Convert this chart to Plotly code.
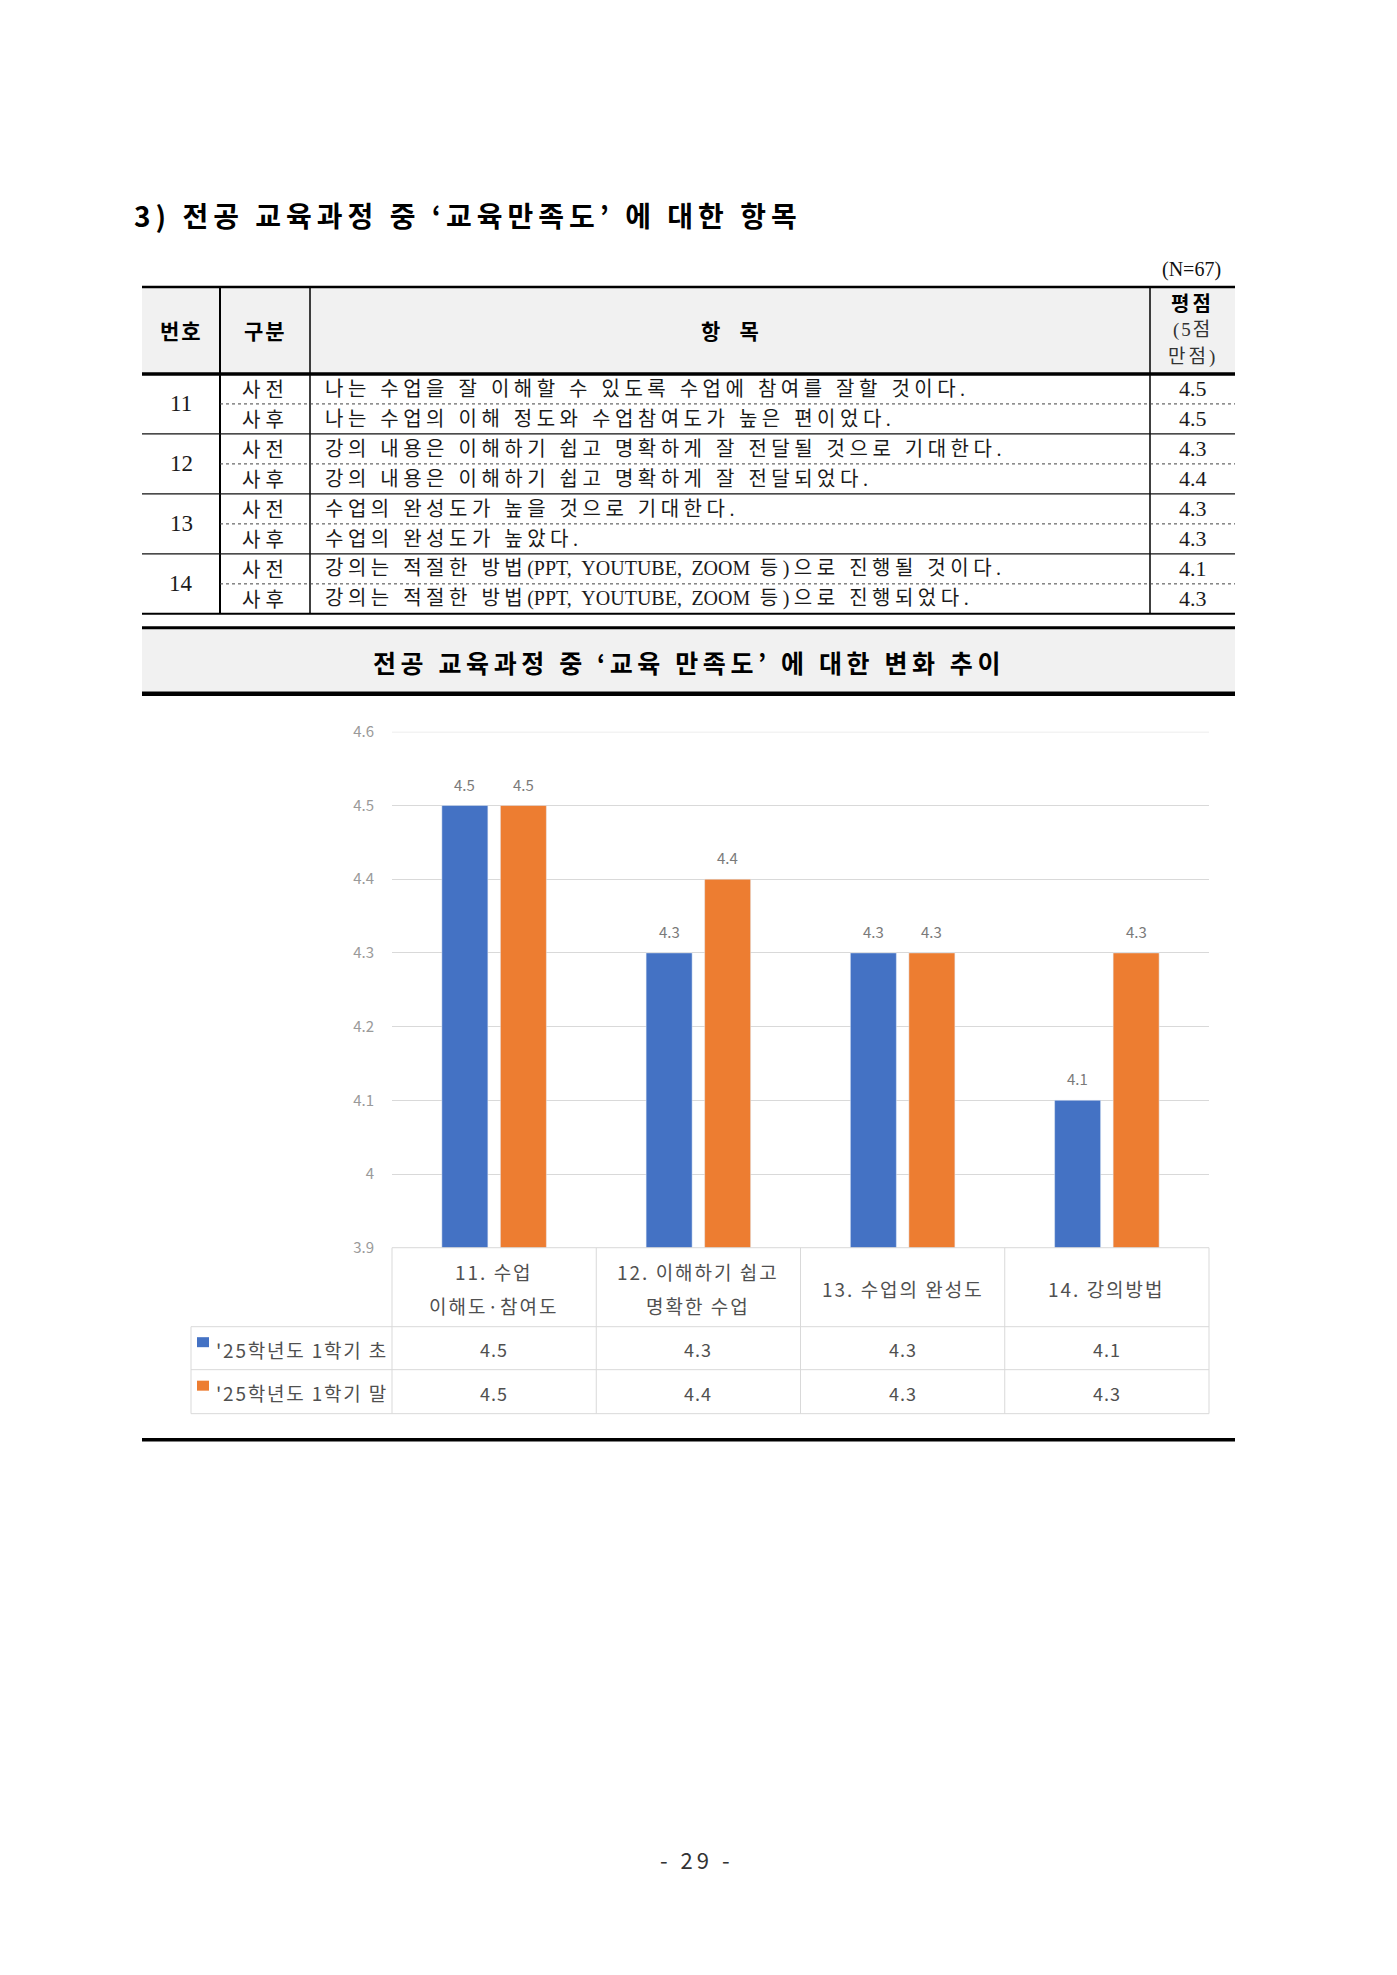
import re
import plotly.graph_objects as go

W, H = 1397, 1975

# ---------------- data ----------------
item_numbers = ["11", "12", "13", "14"]
phase_labels = ["사전", "사후"]
items_pre = [
    "나는 수업을 잘 이해할 수 있도록 수업에 참여를 잘할 것이다.",
    "강의 내용은 이해하기 쉽고 명확하게 잘 전달될 것으로 기대한다.",
    "수업의 완성도가 높을 것으로 기대한다.",
    "강의는 적절한 방법(PPT, YOUTUBE, ZOOM 등)으로 진행될 것이다.",
]
items_post = [
    "나는 수업의 이해 정도와 수업참여도가 높은 편이었다.",
    "강의 내용은 이해하기 쉽고 명확하게 잘 전달되었다.",
    "수업의 완성도가 높았다.",
    "강의는 적절한 방법(PPT, YOUTUBE, ZOOM 등)으로 진행되었다.",
]
categories = ["11. 수업 이해도·참여도", "12. 이해하기 쉽고 명확한 수업",
              "13. 수업의 완성도", "14. 강의방법"]
category_lines = [["11. 수업", "이해도·참여도"], ["12. 이해하기 쉽고", "명확한 수업"],
                  ["13. 수업의 완성도"], ["14. 강의방법"]]
series_names = ["'25학년도 1학기 초", "'25학년도 1학기 말"]
scores_pre = [4.5, 4.3, 4.3, 4.1]
scores_post = [4.5, 4.4, 4.3, 4.3]
y_tick_vals = [3.9, 4.0, 4.1, 4.2, 4.3, 4.4, 4.5, 4.6]
y_tick_text = ["3.9", "4", "4.1", "4.2", "4.3", "4.4", "4.5", "4.6"]

page_title = "3) 전공 교육과정 중 ‘교육만족도’ 에 대한 항목"
chart_title = "전공 교육과정 중 ‘교육 만족도’ 에 대한 변화 추이"
n_note = "(N=67)"
page_number = "- 29 -"

# ---------------- styles ----------------
BLUE = "#4472C4"
ORANGE = "#ED7D31"
SANS = "Noto Sans CJK KR"
SERIF = "Liberation Serif, Noto Sans CJK KR"
GRID = "#d9d9d9"


def X(px):
    return px / W


def Y(py):
    return 1 - ((py - 13) / 0.9896) / H


shapes = []
annotations = []


def hline(y, x0, x1, w=1, color="#000", dash="solid"):
    shapes.append(dict(type="line", xref="paper", yref="paper", x0=X(x0), x1=X(x1),
                       y0=Y(y), y1=Y(y), line=dict(color=color, width=w, dash=dash)))


def vline(x, y0, y1, w=1, color="#000"):
    shapes.append(dict(type="line", xref="paper", yref="paper", x0=X(x), x1=X(x),
                       y0=Y(y0), y1=Y(y1), line=dict(color=color, width=w)))


def rect(x0, y0, x1, y1, fill):
    shapes.append(dict(type="rect", xref="paper", yref="paper", x0=X(x0), x1=X(x1),
                       y0=Y(y1), y1=Y(y0), fillcolor=fill, line=dict(width=0), layer="below"))


def ls(s, px):
    return f'<span style="letter-spacing:{px}px">{s}</span>'


LATIN = re.compile(r"\(?[A-Z]+,?")


def mixed(s, ls_k, ls_l):
    out, pos = [], 0
    for m in LATIN.finditer(s):
        if m.start() > pos:
            out.append(ls(s[pos:m.start()], ls_k))
        out.append(ls(m.group(), ls_l))
        pos = m.end()
    if pos < len(s):
        out.append(ls(s[pos:], ls_k))
    return "".join(out)


def text(x, y, s, size, color="#000", family=SANS, xanchor="center", weight="normal",
         xref="paper", spacing=None):
    if spacing is not None:
        s = ls(s, spacing)
    annotations.append(dict(x=X(x) if xref == "paper" else x, y=Y(y), xref=xref, yref="paper",
                            text=s, showarrow=False, xanchor=xanchor, yanchor="middle",
                            font=dict(size=size, color=color, family=family, weight=weight)))


# ---------------- page title ----------------
text(132, 216, page_title, 28, "#000", SANS, "left", "bold", spacing=5)
text(1223, 271, n_note, 20, "#111", SERIF, "right")

# ---------------- document table ----------------
TL, TR = 142, 1235
C1, C2, C3 = 220, 310, 1150
TOP, HB = 288, 375
ROW = 30
BOT = HB + ROW * 8

rect(TL, TOP, TR, HB, "#f1f1f1")
hline(TOP, TL, TR, 2.5)
hline(HB, TL, TR, 3.5)
for c, w in ((C1, 2), (C2, 1.5), (C3, 1.5)):
    vline(c, TOP, BOT, w)

text((TL + C1) / 2, 331, "번호", 21, "#000", SANS, weight="bold", spacing=2)
text((C1 + C2) / 2, 331, "구분", 21, "#000", SANS, weight="bold", spacing=2)
text((C2 + C3) / 2, 331, "항 &nbsp; &nbsp;목", 21, "#000", SANS, weight="bold")
text((C3 + TR) / 2, 304, "평점", 20, "#000", SANS, weight="bold", spacing=3)
text((C3 + TR) / 2, 331, "(5점", 19, "#333", SERIF, spacing=2)
text((C3 + TR) / 2, 358, "만점)", 19, "#333", SERIF, spacing=3)

for i, num in enumerate(item_numbers):
    g0 = HB + 2 * ROW * i
    text((TL + C1) / 2, g0 + ROW, num, 23, "#1a1a1a", SERIF)
    rows = [(items_pre[i], scores_pre[i]), (items_post[i], scores_post[i])]
    for j, (itm, sc) in enumerate(rows):
        yc = g0 + ROW * j + ROW / 2
        text((C1 + C2) / 2, yc, phase_labels[j], 20, "#1a1a1a", SANS, spacing=5)
        text(C2 + 13, yc, mixed(itm, 4.5, 0), 20, "#1a1a1a", SERIF, "left")
        text((C3 + TR) / 2, yc, f"{sc:.1f}", 22, "#1a1a1a", SERIF)
    hline(g0 + ROW, C1, TR, 1, "#444", "dot")
    if i < 3:
        hline(g0 + 2 * ROW, TL, TR, 1.3, "#111")
hline(BOT, TL, TR, 2)

# ---------------- chart title box ----------------
rect(TL, 630, TR, 693, "#f1f1f1")
hline(629, TL, TR, 3)
hline(695, TL, TR, 4.5)
text((TL + TR) / 2, 663, chart_title, 25, "#000", SANS, weight="bold", spacing=4.6)

# ---------------- chart ----------------
PX0, PX1 = 392, 1209
PY_TOP, PY_BOT = 733, 1249
BARGAP, BARGROUPGAP = 0.427, 0.214

fig = go.Figure()
fig.add_trace(go.Bar(x=categories, y=scores_pre, name=series_names[0], marker_color=BLUE))
fig.add_trace(go.Bar(x=categories, y=scores_post, name=series_names[1], marker_color=ORANGE))

# value labels above the bars (offset within each category group from bargap)
cw = (PX1 - PX0) / len(categories)
slot = cw * (1 - BARGAP) / 2
for s_idx, vals in enumerate((scores_pre, scores_post)):
    for cat, v in zip(categories, vals):
        annotations.append(dict(x=cat, y=v, xref="x", yref="y", text=f"{v:.1f}",
                                showarrow=False, xanchor="center", yanchor="bottom",
                                xshift=(s_idx - 0.5) * slot, yshift=9,
                                font=dict(size=15, color="#7a7a7a", family=SANS)))

# gridline at the very top of the range
shapes.append(dict(type="line", xref="x domain", yref="y", x0=0, x1=1, y0=4.6, y1=4.6,
                   line=dict(color=GRID, width=1)))

# data table under the chart
TB_L = 191
R1, R2, R3 = 1328, 1371, 1415
hline(PY_BOT, PX0, PX1, 1, GRID)
for yy in (R1, R2, R3):
    hline(yy, TB_L, PX1, 1, GRID)
vline(TB_L, R1, R3, 1, GRID)
for k in range(len(categories) + 1):
    vline(PX0 + cw * k, PY_BOT, R3, 1, GRID)

for cat, lines in zip(categories, category_lines):
    if len(lines) == 2:
        text(cat, 1273, lines[0], 19, "#505050", SANS, xref="x", spacing=2)
        text(cat, 1307, lines[1], 19, "#505050", SANS, xref="x", spacing=2)
    else:
        text(cat, 1290, lines[0], 19, "#505050", SANS, xref="x", spacing=2)

for r, (vals, name, col) in enumerate(((scores_pre, series_names[0], BLUE),
                                       (scores_post, series_names[1], ORANGE))):
    yc = (R1 + R2) / 2 if r == 0 else (R2 + R3) / 2
    rect(197, yc - 11, 209, yc - 1, col)
    text(214, yc + 1, name, 19, "#505050", SANS, "left", spacing=1.8)
    for cat, v in zip(categories, vals):
        text(cat, yc + 1, f"{v:.1f}", 18, "#505050", SANS, xref="x", spacing=1)

hline(1441, TL, TR, 3.5)

# page number
text(697, 1860, page_number, 22, "#333", SANS, spacing=4)

fig.update_layout(
    width=W, height=H, margin=dict(l=0, r=0, t=0, b=0),
    paper_bgcolor="white", plot_bgcolor="white",
    showlegend=False, barmode="group", bargap=BARGAP, bargroupgap=BARGROUPGAP,
    shapes=shapes, annotations=annotations,
    xaxis=dict(domain=[X(PX0), X(PX1)], showticklabels=False, showgrid=False,
               zeroline=False, showline=False, ticks=""),
    yaxis=dict(domain=[Y(PY_BOT), Y(PY_TOP)], range=[3.9, 4.6], tickvals=y_tick_vals,
               ticktext=y_tick_text, showgrid=True, gridcolor=GRID, gridwidth=1,
               zeroline=False, showline=False, ticks="", ticklabelstandoff=17,
               tickfont=dict(size=15, color="#9a9a9a", family=SANS)),
)

fig.write_html("out.html")
